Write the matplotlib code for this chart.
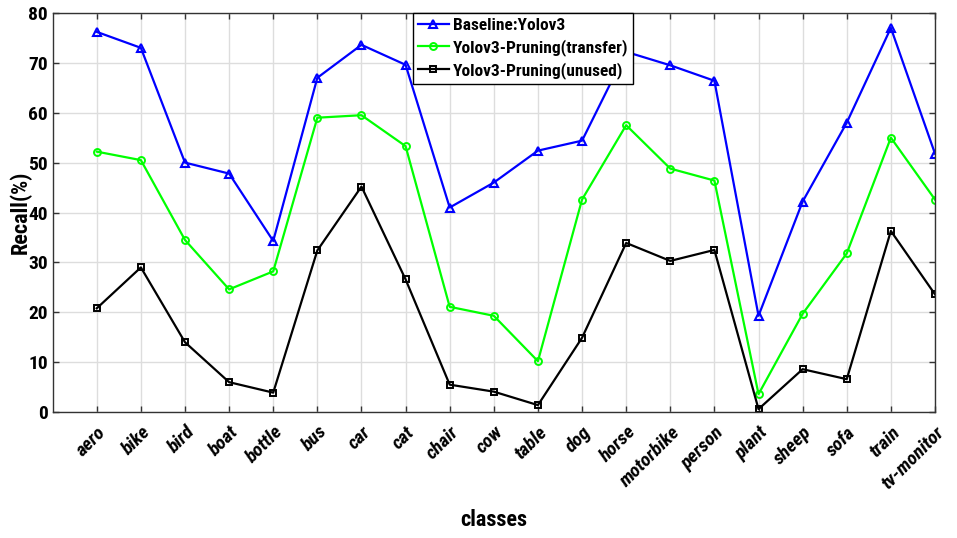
import matplotlib.pyplot as plt

classes = ['aero', 'bike', 'bird', 'boat', 'bottle', 'bus', 'car', 'cat',
           'chair', 'cow', 'table', 'dog', 'horse', 'motorbike', 'person',
           'plant', 'sheep', 'sofa', 'train', 'tv-monitor']
baseline = [76.2, 73.0, 50.0, 47.8, 34.3, 67.0, 73.6, 69.6, 41.0, 46.0,
            52.4, 54.4, 72.2, 69.5, 66.4, 19.3, 42.2, 58.0, 77.0, 51.8]
transfer = [52.2, 50.5, 34.5, 24.6, 28.2, 59.0, 59.5, 53.3, 21.1, 19.3,
            10.2, 42.6, 57.5, 48.8, 46.4, 3.6, 19.7, 31.8, 55.0, 42.6]
unused = [20.8, 29.0, 14.0, 6.0, 3.9, 32.4, 45.2, 26.6, 5.5, 4.1,
          1.4, 14.9, 33.9, 30.3, 32.5, 0.6, 8.6, 6.6, 36.3, 23.6]
yticks = [0, 10, 20, 30, 40, 50, 60, 70, 80]

# narrow bold sans, falling back to the regular width
plt.rcParams['font.family'] = ['Liberation Sans Narrow', 'Arial Narrow',
                               'Nimbus Sans Narrow', 'Roboto Condensed',
                               'PT Sans Narrow', 'Liberation Sans',
                               'DejaVu Sans']
plt.rcParams['font.weight'] = 'bold'

fig = plt.figure(figsize=(9.57, 5.38), dpi=100)
ax = fig.add_axes([0.055, 0.234, 0.922, 0.742])

x = list(range(1, len(classes) + 1))
ax.plot(x, baseline, color='#0000ff', lw=1.6, marker='^', ms=6,
        mfc='none', mew=1.5, label='Baseline:Yolov3')
ax.plot(x, transfer, color='#00ff00', lw=1.6, marker='o', ms=5,
        mfc='none', mew=1.4, label='Yolov3-Pruning(transfer)')
ax.plot(x, unused, color='black', lw=1.6, marker='s', ms=4.5,
        mfc='none', mew=1.4, label='Yolov3-Pruning(unused)')

ax.set_xlim(0, 20)
ax.set_ylim(0, 80)
ax.set_xticks(x)
ax.set_xticklabels(classes, rotation=45, ha='right', va='top',
                   rotation_mode='anchor', fontsize=14,
                   fontstyle='italic', fontweight='bold')
ax.set_yticks(yticks)
ax.set_yticklabels([str(v) for v in yticks], fontsize=14, fontweight='bold')
ax.tick_params(direction='in', top=True, right=True, length=4, width=1,
               color='#333333')
ax.tick_params(axis='x', pad=8)
ax.grid(True, color='#dddddd', lw=1)
ax.set_axisbelow(True)
for s in ax.spines.values():
    s.set_color('#333333')
    s.set_linewidth(1)

ax.set_xlabel('classes', fontsize=16, fontweight='bold', labelpad=12)
ax.set_ylabel('Recall(%)', fontsize=16, fontweight='bold')
ax.yaxis.set_label_coords(-0.024, 0.5)

leg = ax.legend(loc='upper left', bbox_to_anchor=(0.408, 1.0),
                borderaxespad=0, fancybox=False, framealpha=1,
                edgecolor='black', handlelength=1.8, handletextpad=0.2,
                labelspacing=0.35, borderpad=0.3,
                prop={'size': 12.5, 'weight': 'bold'})
leg.get_frame().set_linewidth(1)

fig.savefig('out.png', dpi=100)
